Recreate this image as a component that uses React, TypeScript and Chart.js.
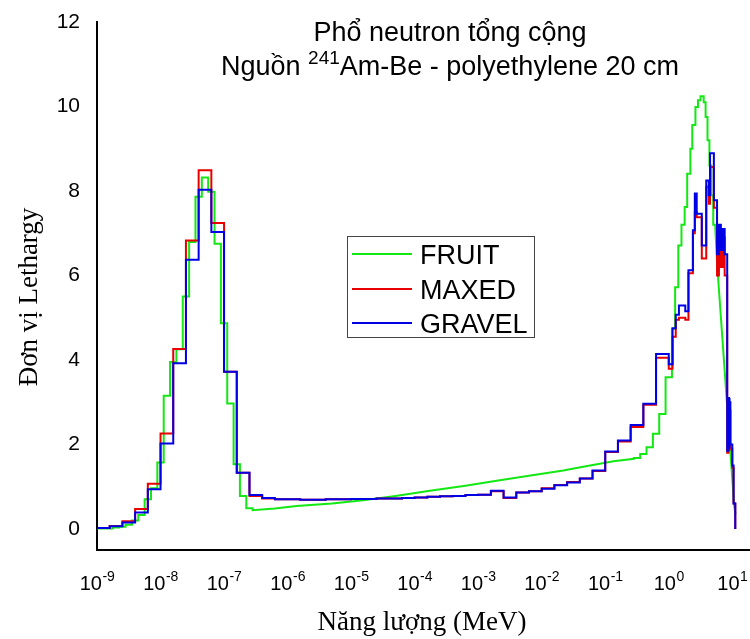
import React, { useEffect, useRef } from 'react';
import { Chart, registerables } from 'chart.js';

Chart.register(...registerables);

// ---------- data (energies as log10(E / MeV), values in lethargy units) ----------
const binEdgesLogE = [
  -9.0, -8.8, -8.6, -8.4, -8.2, -8.0, -7.8, -7.6, -7.4, -7.2, -7.0, -6.8, -6.6, -6.4,
  -6.2, -6.0, -5.8, -5.6, -5.4, -5.2, -5.0, -4.8, -4.6, -4.4, -4.2, -4.0, -3.8, -3.6, -3.4, -3.2, -3.0,
  -2.8, -2.6, -2.4, -2.2, -2.0, -1.8, -1.6, -1.4, -1.2, -1.0, -0.8, -0.6, -0.4, -0.2,
  0.0, 0.06, 0.11, 0.16, 0.26, 0.31, 0.38, 0.41, 0.44, 0.52, 0.59, 0.63, 0.65, 0.71, 0.76,
  0.79, 0.82, 0.85, 0.88, 0.92, 0.94, 0.95, 0.96, 0.97, 1.0, 1.02, 1.047,
];

const gravelValues = [
  0.02, 0.06, 0.15, 0.39, 0.94, 2.02, 3.92, 6.37, 8.03, 7.03, 3.72, 1.33, 0.80, 0.73,
  0.70, 0.70, 0.69, 0.69, 0.70, 0.70, 0.71, 0.71, 0.72, 0.72, 0.73, 0.74, 0.76, 0.77, 0.78, 0.80, 0.81,
  0.90, 0.74, 0.86, 0.89, 0.95, 1.03, 1.10, 1.19, 1.38, 1.83, 2.09, 2.46, 2.96, 4.14,
  3.90, 4.75, 5.07, 5.29, 5.15, 6.12, 7.07, 7.94, 7.46, 6.71, 8.25, 7.90, 8.89, 7.78,
  6.50, 7.20, 6.60, 7.10, 6.50, 1.85, 3.10, 1.90, 3.00, 2.00, 1.50, 0.60,
];

const maxedValues = [
  0.02, 0.07, 0.18, 0.47, 1.07, 2.26, 4.26, 6.83, 8.49, 7.24, 3.72, 1.33, 0.78, 0.72,
  0.70, 0.70, 0.69, 0.69, 0.70, 0.70, 0.71, 0.71, 0.72, 0.72, 0.73, 0.74, 0.76, 0.77, 0.78, 0.80, 0.81,
  0.89, 0.73, 0.86, 0.89, 0.96, 1.04, 1.11, 1.19, 1.37, 1.82, 2.07, 2.41, 2.94, 4.05,
  3.79, 4.55, 4.95, 5.00, 4.95, 6.05, 7.00, 7.50, 7.38, 6.40, 8.10, 7.70, 8.57, 7.60,
  6.00, 6.90, 6.20, 6.90, 6.00, 1.80, 3.00, 1.85, 2.80, 1.90, 1.45, 0.60,
];

const fruitThermalEdgesLogE = [
  -9.0, -8.75, -8.65, -8.55, -8.45, -8.35, -8.25, -8.15, -8.05, -7.95, -7.85, -7.75,
  -7.65, -7.55, -7.45, -7.35, -7.25, -7.15, -7.05, -6.95, -6.85, -6.75, -6.65, -6.55,
];
const fruitThermalValues = [
  0.01, 0.03, 0.05, 0.10, 0.20, 0.33, 0.70, 0.96, 1.57, 3.15, 3.95, 4.25,
  5.50, 6.79, 7.86, 8.32, 7.98, 6.75, 4.87, 2.97, 1.53, 0.78, 0.49,
];

const fruitCurveLogE = [-6.55, -6.2, -5.86, -5.3, -4.81, -4.3, -3.76, -3.2, -2.71, -2.2, -1.66, -1.39, -0.87, -0.55];
const fruitCurveValues = [0.44, 0.48, 0.54, 0.60, 0.68, 0.78, 0.90, 1.02, 1.14, 1.26, 1.38, 1.46, 1.60, 1.66];

const fruitPeakEdgesLogE = [
  -0.55, -0.45, -0.35, -0.25, -0.15, -0.05, 0.05, 0.10, 0.15, 0.20, 0.25, 0.29,
  0.34, 0.37, 0.42, 0.46, 0.50, 0.55, 0.58, 0.61, 0.64, 0.67, 0.70, 0.73,
];
const fruitPeakValues = [
  1.68, 1.77, 1.93, 2.25, 2.72, 3.59, 4.74, 5.72, 6.71, 7.20, 7.62,
  8.41, 9.00, 9.56, 9.99, 10.15, 10.24, 10.10, 9.75, 9.20, 8.60, 7.90, 7.20,
];

const fruitTailLogE = [0.76, 1.03, 1.05];
const fruitTailValues = [6.30, 0.55, 0.35];

const xTickExponents = [-9, -8, -7, -6, -5, -4, -3, -2, -1, 0, 1];
const yTickValues = [0, 2, 4, 6, 8, 10, 12];

const seriesNames = ['FRUIT', 'MAXED', 'GRAVEL'];
const seriesColors = ['rgb(20,232,20)', 'rgb(232,0,0)', 'rgb(0,0,228)'];

const titleLine1 = 'Phổ neutron tổng cộng';
const titleLine2Parts = ['Nguồn ', '241', 'Am-Be - polyethylene 20 cm'];
const xAxisTitle = 'Năng lượng (MeV)';
const yAxisTitle = 'Đơn vị Lethargy';

// ---------- helpers ----------
const SANS = '"Liberation Sans", Arial, Helvetica, sans-serif';
const SERIF = '"Liberation Serif", "Times New Roman", Times, serif';

function stepPoints(edges: number[], values: number[]) {
  const pts: { x: number; y: number }[] = [];
  for (let i = 0; i < values.length; i++) {
    pts.push({ x: Math.pow(10, edges[i]), y: values[i] });
    pts.push({ x: Math.pow(10, edges[i + 1]), y: values[i] });
  }
  return pts;
}

function linePoints(logs: number[], values: number[]) {
  return logs.map((l, i) => ({ x: Math.pow(10, l), y: values[i] }));
}

const textPlugin = {
  id: 'textPlugin',
  afterDraw(chart: any) {
    const ctx: CanvasRenderingContext2D = chart.ctx;
    const xs = chart.scales.x;
    ctx.save();
    ctx.fillStyle = '#000';
    ctx.textAlign = 'left';
    ctx.textBaseline = 'alphabetic';

    // x tick labels: 10 with superscript exponent
    const baseFont = `20px ${SANS}`;
    const supFont = `14px ${SANS}`;
    for (const e of xTickExponents) {
      const px = xs.getPixelForValue(Math.pow(10, e));
      const sup = String(e);
      ctx.font = baseFont;
      const wb = ctx.measureText('10').width;
      ctx.font = supFont;
      const ws = ctx.measureText(sup).width;
      const start = px - (wb + ws) / 2;
      ctx.font = baseFont;
      ctx.fillText('10', start, 590);
      ctx.font = supFont;
      ctx.fillText(sup, start + wb + 0.5, 581);
    }

    // chart title
    const cx = 450;
    const big = `27px ${SANS}`;
    const small = `19px ${SANS}`;
    ctx.font = big;
    ctx.textAlign = 'center';
    ctx.fillText(titleLine1, cx, 41);
    ctx.textAlign = 'left';
    const w0 = ctx.measureText(titleLine2Parts[0]).width;
    const w2 = ctx.measureText(titleLine2Parts[2]).width;
    ctx.font = small;
    const w1 = ctx.measureText(titleLine2Parts[1]).width;
    let sx = cx - (w0 + w1 + w2) / 2;
    ctx.font = big;
    ctx.fillText(titleLine2Parts[0], sx, 75);
    sx += w0;
    ctx.font = small;
    ctx.fillText(titleLine2Parts[1], sx, 64);
    sx += w1;
    ctx.font = big;
    ctx.fillText(titleLine2Parts[2], sx, 75);

    // legend
    ctx.fillStyle = '#fff';
    ctx.fillRect(347, 236, 187, 101);
    ctx.strokeStyle = '#444';
    ctx.lineWidth = 1;
    ctx.strokeRect(347.5, 236.5, 187, 101);
    const rows = [254, 289, 323];
    const bases = [264, 299, 333];
    ctx.font = `27px ${SANS}`;
    seriesNames.forEach((name, i) => {
      ctx.strokeStyle = seriesColors[i];
      ctx.lineWidth = 2;
      ctx.beginPath();
      ctx.moveTo(352, rows[i]);
      ctx.lineTo(412, rows[i]);
      ctx.stroke();
      ctx.fillStyle = '#000';
      ctx.fillText(name, 420, bases[i]);
    });

    // axis titles
    ctx.fillStyle = '#000';
    ctx.font = `27px ${SERIF}`;
    ctx.textAlign = 'center';
    ctx.fillText(xAxisTitle, 422, 630);
    ctx.save();
    ctx.translate(37, 297);
    ctx.rotate(-Math.PI / 2);
    ctx.fillText(yAxisTitle, 0, 0);
    ctx.restore();

    ctx.restore();
  },
};

export default function App() {
  const ref = useRef<HTMLCanvasElement>(null);

  useEffect(() => {
    document.body.style.margin = '0';
    const canvas = ref.current;
    if (!canvas) return;

    const lastEdge = Math.pow(10, binEdgesLogE[binEdgesLogE.length - 1]);
    const fruitData = [
      ...stepPoints(fruitThermalEdgesLogE, fruitThermalValues),
      ...linePoints(fruitCurveLogE, fruitCurveValues),
      ...stepPoints(fruitPeakEdgesLogE, fruitPeakValues),
      ...linePoints(fruitTailLogE, fruitTailValues),
    ];
    const maxedData = [...stepPoints(binEdgesLogE, maxedValues), { x: lastEdge, y: 0 }];
    const gravelData = [...stepPoints(binEdgesLogE, gravelValues), { x: lastEdge, y: 0 }];

    const chart = new Chart(canvas, {
      type: 'line',
      data: {
        datasets: [
          { label: seriesNames[0], data: fruitData, borderColor: seriesColors[0], order: 3 },
          { label: seriesNames[1], data: maxedData, borderColor: seriesColors[1], order: 2 },
          { label: seriesNames[2], data: gravelData, borderColor: seriesColors[2], order: 1 },
        ],
      },
      options: {
        animation: false,
        responsive: false,
        maintainAspectRatio: false,
        elements: {
          point: { radius: 0, hoverRadius: 0 },
          line: { borderWidth: 2, tension: 0, fill: false, borderJoinStyle: 'miter' },
        },
        layout: { padding: { top: 22, right: 0, left: 0, bottom: 0 } },
        plugins: {
          legend: { display: false },
          title: { display: false },
          tooltip: { enabled: false },
        },
        events: [],
        scales: {
          x: {
            type: 'logarithmic',
            min: 1e-9,
            max: 19,
            bounds: 'data',
            grid: { display: false, drawTicks: false },
            border: { display: true, color: '#000', width: 2 },
            ticks: { display: false },
            afterFit: (s: any) => {
              s.height = 89;
              s.paddingLeft = 0;
              s.paddingRight = 0;
            },
          },
          y: {
            type: 'linear',
            min: -0.5,
            max: 12,
            bounds: 'data',
            grid: { display: false, drawTicks: false },
            border: { display: true, color: '#000', width: 2 },
            ticks: {
              color: '#000',
              padding: 17,
              font: { family: SANS, size: 21 },
            },
            afterBuildTicks: (s: any) => {
              s.ticks = yTickValues.map((v) => ({ value: v }));
            },
            afterFit: (s: any) => {
              s.width = 97;
              s.paddingTop = 0;
              s.paddingBottom = 0;
            },
          },
        },
      } as any,
      plugins: [textPlugin],
    });

    return () => chart.destroy();
  }, []);

  return (
    <div style={{ width: 750, height: 639 }}>
      <canvas ref={ref} width={750} height={639} style={{ display: 'block', width: 750, height: 639 }} />
    </div>
  );
}
